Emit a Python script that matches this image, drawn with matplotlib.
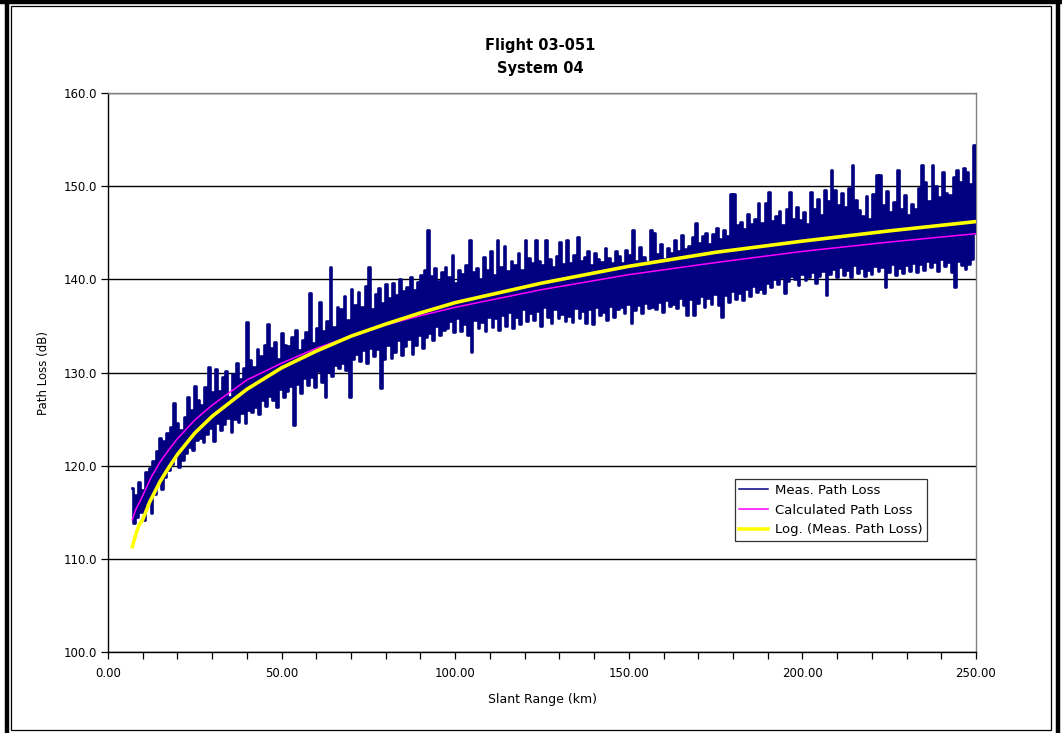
import numpy as np
import matplotlib
matplotlib.use("Agg")
import matplotlib.pyplot as plt
from matplotlib.lines import Line2D
from matplotlib.ticker import MultipleLocator, FormatStrFormatter

plt.rcParams['font.family'] = ['DejaVu Sans']

title = "Flight 03-051\nSystem 04"
x_label = "Slant Range (km)"
y_label = "Path Loss (dB)"
series_names = ["Meas. Path Loss", "Calculated Path Loss", "Log. (Meas. Path Loss)"]

# Measured path loss (dB), sampled evenly from ~7 km to 250 km
meas_path_loss = [
    117.6, 113.8, 116.9, 114.5, 118.2, 115.0, 117.4, 114.2, 119.3, 116.1,
    119.8, 114.9, 120.5, 117.0, 121.6, 118.2, 123.0, 117.5, 122.6, 118.8,
    123.5, 119.5, 124.1, 120.2, 126.7, 121.0, 124.6, 119.9, 123.8, 120.6,
    125.2, 121.4, 127.4, 122.0, 126.0, 121.7, 128.6, 122.8, 127.1, 123.0,
    126.5, 122.5, 128.4, 123.4, 130.6, 124.0, 127.9, 122.7, 130.4, 124.6,
    128.0, 123.8, 129.5, 124.5, 130.2, 125.1, 127.4, 123.6, 129.8, 125.0,
    131.0, 124.7, 129.3, 125.6, 130.5, 124.6, 135.4, 126.0, 131.3, 125.8,
    130.6, 126.3, 132.5, 125.5, 131.8, 127.0, 133.0, 126.4, 135.2, 127.5,
    132.6, 127.0, 133.3, 126.3, 131.5, 128.2, 134.2, 127.4, 133.0, 128.0,
    132.8, 128.5, 133.8, 124.4, 134.6, 128.8, 132.4, 127.8, 133.5, 129.4,
    134.3, 128.7, 138.5, 129.5, 133.2, 128.4, 134.8, 130.2, 137.6, 129.0,
    134.5, 127.4, 135.5, 130.1, 141.3, 129.6, 134.9, 130.8, 137.0, 130.5,
    136.8, 131.0, 138.2, 130.3, 135.6, 127.4, 139.0, 131.5, 137.2, 132.0,
    138.6, 131.2, 137.0, 132.4, 139.3, 131.0, 141.3, 132.6, 136.8, 131.8,
    138.4, 132.5, 139.1, 128.3, 137.5, 131.4, 139.5, 133.0, 138.0, 131.6,
    139.6, 132.2, 138.3, 133.5, 140.0, 131.9, 138.8, 132.8, 139.2, 133.6,
    140.2, 132.0, 138.9, 133.0, 139.7, 134.0, 140.5, 132.6, 141.0, 133.8,
    145.3, 134.2, 140.4, 133.5, 141.2, 135.0, 139.8, 134.0, 140.8, 134.6,
    141.3, 134.8, 140.2, 135.5, 142.6, 134.3, 139.6, 135.8, 141.0, 134.5,
    140.6, 135.2, 141.5, 134.0, 144.2, 132.2, 140.8, 135.6, 141.2, 134.8,
    140.0, 135.4, 142.4, 134.5, 141.0, 136.0, 143.0, 134.9, 140.5, 135.8,
    144.2, 134.6, 141.3, 136.2, 143.6, 135.0, 140.9, 136.5, 142.0, 134.8,
    141.5, 136.0, 142.8, 135.2, 141.0, 136.8, 144.2, 135.5, 142.3, 136.4,
    141.8, 135.6, 144.2, 136.6, 142.0, 135.0, 141.5, 137.0, 144.2, 136.0,
    142.2, 135.3, 141.3, 136.8, 142.5, 135.9, 144.0, 136.3, 141.6, 135.5,
    144.2, 136.1, 141.8, 135.4, 142.6, 136.9, 144.5, 135.8, 142.0, 136.6,
    142.4, 135.3, 143.0, 136.8, 141.5, 135.2, 142.8, 137.0, 142.2, 136.2,
    141.9, 136.5, 143.4, 135.6, 142.3, 137.1, 141.7, 136.0, 143.0, 136.8,
    142.5, 137.0, 141.8, 136.4, 143.2, 137.3, 142.6, 135.3, 145.3, 136.7,
    142.0, 137.2, 143.5, 136.4, 142.4, 137.5, 141.9, 136.9, 145.3, 137.0,
    145.0, 136.8, 142.7, 137.6, 143.8, 136.5, 142.2, 137.8, 143.4, 137.1,
    142.8, 137.4, 144.2, 136.9, 143.0, 138.0, 144.8, 137.2, 143.3, 136.2,
    143.6, 137.9, 144.5, 136.2, 146.1, 137.5, 143.9, 138.2, 144.6, 137.0,
    145.0, 138.0, 143.8, 137.4, 144.9, 138.4, 145.5, 137.2, 144.3, 136.0,
    145.3, 138.3, 144.6, 137.6, 149.2, 138.7, 149.2, 137.9, 145.8, 138.5,
    146.2, 137.8, 145.4, 139.0, 147.0, 138.2, 145.9, 139.3, 146.5, 138.6,
    148.2, 139.0, 146.0, 138.5, 148.2, 139.6, 149.4, 139.2, 146.3, 140.0,
    146.8, 139.5, 147.3, 140.2, 145.8, 138.5, 147.6, 139.8, 149.4, 140.4,
    146.5, 140.0, 147.8, 139.4, 146.4, 140.6, 147.2, 139.9, 145.9, 140.3,
    149.4, 140.8, 147.5, 139.6, 148.6, 140.4, 146.9, 140.9, 149.6, 138.3,
    148.4, 140.6, 151.7, 141.1, 149.6, 140.2, 148.0, 141.3, 149.3, 140.5,
    147.8, 141.0, 149.8, 140.3, 152.3, 141.5, 148.5, 140.7, 147.4, 141.2,
    146.8, 140.4, 148.9, 141.0, 146.5, 140.6, 149.2, 141.4, 151.2, 140.9,
    151.2, 141.3, 148.0, 139.2, 149.5, 140.8, 147.2, 141.6, 148.3, 140.5,
    151.7, 141.2, 147.6, 140.7, 149.0, 141.5, 146.9, 140.9, 148.1, 141.8,
    147.5, 140.8, 149.8, 141.6, 152.3, 141.0, 150.5, 142.0, 148.4, 141.3,
    152.3, 141.9, 150.0, 140.9, 148.8, 142.2, 151.5, 141.4, 149.3, 141.9,
    149.0, 140.8, 151.0, 139.2, 151.7, 142.0, 150.4, 141.5, 152.0, 141.1,
    151.5, 141.6, 150.2, 142.2, 154.4, 145.0,
]
meas_range_start = 7.0
meas_range_end = 250.0

# Calculated path loss read at selected ranges
calc_range = [7.0, 8.0, 9.0, 10.0, 12.5, 15.0, 17.5, 20.0, 25.0, 30.0, 40.0, 50.0,
              60.0, 70.0, 80.0, 90.0, 100.0, 125.0, 150.0, 175.0, 200.0, 225.0, 250.0]
calc_loss = [114.2, 115.3, 116.0, 116.8, 118.8, 120.4, 121.7, 122.9, 124.9, 126.5,
             129.2, 131.0, 132.6, 133.9, 135.1, 136.1, 137.0, 138.9, 140.5, 141.8,
             143.0, 144.0, 144.9]

# Logarithmic trend line of the measurement
log_range = [7.0, 8.0, 9.0, 10.0, 12.0, 15.0, 17.5, 20.0, 25.0, 30.0, 40.0, 50.0,
             60.0, 70.0, 80.0, 90.0, 100.0, 125.0, 150.0, 175.0, 200.0, 225.0, 250.0]
log_loss = [111.3, 112.6, 113.7, 114.2, 116.1, 118.3, 119.8, 121.2, 123.5, 125.3,
            128.2, 130.5, 132.3, 133.9, 135.2, 136.4, 137.5, 139.6, 141.4, 142.9,
            144.1, 145.2, 146.2]

W, H = 1062, 733
fig = plt.figure(figsize=(W / 100, H / 100), dpi=100)
fig.patch.set_facecolor('white')

# Outer frame (thick) and inner chart border (thin)
fig.add_artist(Line2D([6.5 / W, 6.5 / W], [0, 1], color='black', lw=3.2, transform=fig.transFigure))
fig.add_artist(Line2D([0, 1], [1 - 2 / H, 1 - 2 / H], color='black', lw=3.2, transform=fig.transFigure))
fig.add_artist(Line2D([1 - 4 / W, 1 - 4 / W], [0, 1], color='black', lw=3.2, transform=fig.transFigure))
fig.add_artist(plt.Rectangle((11 / W, 3 / H), (1051 - 11) / W, (727 - 3) / H, fill=False,
                             edgecolor='black', lw=0.9, transform=fig.transFigure))

left, right, top, bottom = 108, 976, 93, 652
ax = fig.add_axes([left / W, 1 - bottom / H, (right - left) / W, (bottom - top) / H])

meas_range = np.linspace(meas_range_start, meas_range_end, len(meas_path_loss))
l1, = ax.plot(meas_range, meas_path_loss, color='#000080', lw=1.9, zorder=3,
              drawstyle='steps-mid')
l2, = ax.plot(calc_range, calc_loss, color='#FF00FF', lw=1.1, zorder=4)
l3, = ax.plot(log_range, log_loss, color='#FFFF00', lw=2.6, zorder=5)

ax.set_xlim(0, 250)
ax.set_ylim(100, 160)
ax.xaxis.set_major_locator(MultipleLocator(50))
ax.xaxis.set_minor_locator(MultipleLocator(10))
ax.yaxis.set_major_locator(MultipleLocator(10))
ax.xaxis.set_major_formatter(FormatStrFormatter('%.2f'))
ax.yaxis.set_major_formatter(FormatStrFormatter('%.1f'))
ax.tick_params(axis='both', which='both', direction='out', length=5, width=0.9,
               labelsize=8.5, colors='black')
ax.tick_params(axis='x', pad=6)
ax.tick_params(axis='y', pad=3)

ax.grid(axis='y', which='major', color='black', lw=1.0, zorder=1)
for sp in ['left', 'bottom']:
    ax.spines[sp].set_color('black')
    ax.spines[sp].set_linewidth(1.0)
for sp in ['top', 'right']:
    ax.spines[sp].set_color('#808080')
    ax.spines[sp].set_linewidth(1.0)

ax.set_xlabel(x_label, fontsize=9, labelpad=9)
ax.set_ylabel(y_label, fontsize=8.5, labelpad=10)

fig.text(540 / W, 1 - 57 / H, title, ha='center', va='center', fontsize=10.5,
         fontweight='bold', linespacing=1.6)

leg = ax.legend([l1, l2, l3], series_names, loc='lower left',
                bbox_to_anchor=(0.722, 0.199), fontsize=9.5, frameon=True,
                fancybox=False, edgecolor='black', handlelength=2.2,
                handletextpad=0.5, borderpad=0.35, labelspacing=0.5,
                borderaxespad=0)
leg.get_frame().set_linewidth(0.9)
for h in leg.legend_handles[:1]:
    h.set_linewidth(1.1)

fig.savefig('out.png', dpi=100, facecolor='white')
